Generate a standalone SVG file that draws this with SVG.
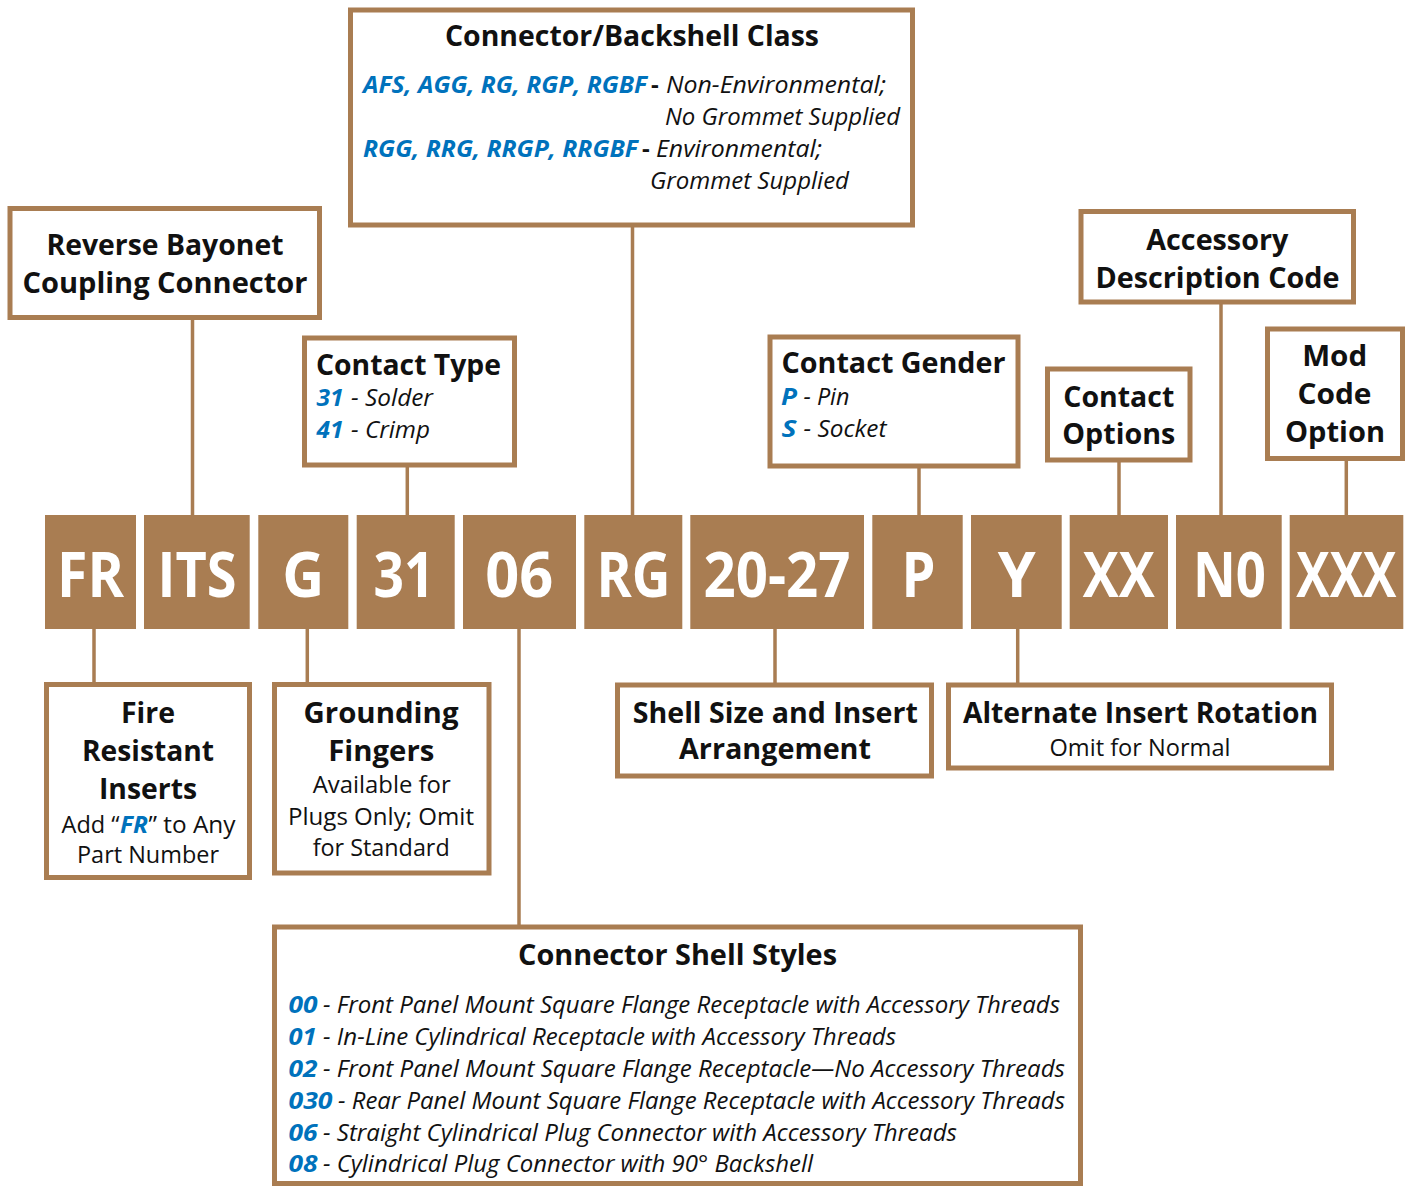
<svg xmlns="http://www.w3.org/2000/svg" width="1410" height="1186" viewBox="0 0 1410 1186">
<style>
.box{fill:#fff;stroke:#A97D52;stroke-width:5}
.code{fill:#A97D52}
.ct{font-family:"Open Sans","Liberation Sans",sans-serif;font-weight:700;font-size:62px;fill:#fff;text-anchor:middle}
.t{font-family:"Open Sans","Liberation Sans",sans-serif;font-weight:700;font-size:29px;fill:#111}
.t2{font-family:"Open Sans","Liberation Sans",sans-serif;font-weight:700;font-size:28px;fill:#111}
.r{font-family:"Open Sans","Liberation Sans",sans-serif;font-weight:400;font-size:24px;fill:#111}
.i{font-family:"Open Sans","Liberation Sans",sans-serif;font-style:italic;font-weight:400;font-size:24px;fill:#111}
.bi{font-family:"Open Sans","Liberation Sans",sans-serif;font-style:italic;font-weight:700;font-size:24px;fill:#0072BC}
.bd{font-family:"Open Sans","Liberation Sans",sans-serif;font-weight:700;font-size:24px;fill:#111}
.m{text-anchor:middle}
.ln{stroke:#A97D52;stroke-width:3.5;fill:none}
</style>

<g id="connectors">
<line class="ln" x1="192.5" y1="320" x2="192.5" y2="516"/>
<line class="ln" x1="407.3" y1="467" x2="407.3" y2="516"/>
<line class="ln" x1="632.5" y1="227" x2="632.5" y2="516"/>
<line class="ln" x1="919" y1="468" x2="919" y2="516"/>
<line class="ln" x1="1119" y1="462" x2="1119" y2="516"/>
<line class="ln" x1="1221" y1="304" x2="1221" y2="516"/>
<line class="ln" x1="1346.3" y1="461" x2="1346.3" y2="516"/>
<line class="ln" x1="94" y1="628" x2="94" y2="683"/>
<line class="ln" x1="307.3" y1="628" x2="307.3" y2="683"/>
<line class="ln" x1="519" y1="628" x2="519" y2="925"/>
<line class="ln" x1="775" y1="628" x2="775" y2="683"/>
<line class="ln" x1="1017.7" y1="628" x2="1017.7" y2="683"/>
</g>

<g id="code-FR"><rect class="code" x="45" y="515" width="91" height="114"/><text class="ct" x="90.5" y="597" textLength="67" lengthAdjust="spacingAndGlyphs">FR</text></g>
<g id="code-ITS"><rect class="code" x="144" y="515" width="105.7" height="114"/><text class="ct" x="197" y="597" textLength="79" lengthAdjust="spacingAndGlyphs">ITS</text></g>
<g id="code-G"><rect class="code" x="258.3" y="515" width="90" height="114"/><text class="ct" x="303.3" y="597" textLength="42" lengthAdjust="spacingAndGlyphs">G</text></g>
<g id="code-31"><rect class="code" x="356.7" y="515" width="98" height="114"/><text class="ct" x="404" y="597" textLength="61" lengthAdjust="spacingAndGlyphs">31</text></g>
<g id="code-06"><rect class="code" x="463" y="515" width="113" height="114"/><text class="ct" x="519.3" y="597" textLength="68" lengthAdjust="spacingAndGlyphs">06</text></g>
<g id="code-RG"><rect class="code" x="584.3" y="515" width="98" height="114"/><text class="ct" x="633.5" y="597" textLength="74" lengthAdjust="spacingAndGlyphs">RG</text></g>
<g id="code-20-27"><rect class="code" x="690.3" y="515" width="173.7" height="114"/><text class="ct" x="777" y="597" textLength="147" lengthAdjust="spacingAndGlyphs">20-27</text></g>
<g id="code-P"><rect class="code" x="872.3" y="515" width="90.4" height="114"/><text class="ct" x="918.5" y="597" textLength="34" lengthAdjust="spacingAndGlyphs">P</text></g>
<g id="code-Y"><rect class="code" x="971" y="515" width="90.7" height="114"/><text class="ct" x="1016.7" y="597" textLength="38" lengthAdjust="spacingAndGlyphs">Y</text></g>
<g id="code-XX"><rect class="code" x="1069.7" y="515" width="98.3" height="114"/><text class="ct" x="1118.8" y="597" textLength="72" lengthAdjust="spacingAndGlyphs">XX</text></g>
<g id="code-N0"><rect class="code" x="1176" y="515" width="105.7" height="114"/><text class="ct" x="1229.5" y="597" textLength="73" lengthAdjust="spacingAndGlyphs">N0</text></g>
<g id="code-XXX"><rect class="code" x="1289.7" y="515" width="113.6" height="114"/><text class="ct" x="1346.3" y="597" textLength="100" lengthAdjust="spacingAndGlyphs">XXX</text></g>

<g id="reverse-bayonet">
<rect class="box" x="10" y="208.5" width="309.5" height="109"/>
<text class="t m" x="165" y="255" textLength="237" lengthAdjust="spacingAndGlyphs">Reverse Bayonet</text>
<text class="t m" x="165" y="293" textLength="285" lengthAdjust="spacingAndGlyphs">Coupling Connector</text>
</g>

<g id="connector-backshell-class">
<rect class="box" x="350.5" y="10" width="562" height="215"/>
<text class="t m" x="632" y="46" textLength="374" lengthAdjust="spacingAndGlyphs">Connector/Backshell Class</text>
<text class="bi" x="363" y="92.5" textLength="284" lengthAdjust="spacingAndGlyphs">AFS, AGG, RG, RGP, RGBF</text>
<text class="bd" x="651" y="92.5">-</text>
<text class="i" x="666" y="92.5" textLength="220" lengthAdjust="spacingAndGlyphs">Non-Environmental;</text>
<text class="i" x="665" y="124.5" textLength="235" lengthAdjust="spacingAndGlyphs">No Grommet Supplied</text>
<text class="bi" x="363" y="156.5" textLength="275" lengthAdjust="spacingAndGlyphs">RGG, RRG, RRGP, RRGBF</text>
<text class="bd" x="642" y="156.5">-</text>
<text class="i" x="656" y="156.5" textLength="166" lengthAdjust="spacingAndGlyphs">Environmental;</text>
<text class="i" x="650" y="188.5" textLength="199" lengthAdjust="spacingAndGlyphs">Grommet Supplied</text>
</g>

<g id="contact-type">
<rect class="box" x="304.5" y="338" width="210" height="127"/>
<text class="t" x="316" y="375" textLength="185" lengthAdjust="spacingAndGlyphs">Contact Type</text>
<text class="bi" x="316.5" y="406" textLength="27" lengthAdjust="spacingAndGlyphs">31</text>
<text class="i" x="351" y="406" textLength="82" lengthAdjust="spacingAndGlyphs">- Solder</text>
<text class="bi" x="316.5" y="438" textLength="27" lengthAdjust="spacingAndGlyphs">41</text>
<text class="i" x="351" y="438" textLength="79" lengthAdjust="spacingAndGlyphs">- Crimp</text>
</g>

<g id="contact-gender">
<rect class="box" x="770" y="337" width="248" height="129"/>
<text class="t" x="781.5" y="373" textLength="224" lengthAdjust="spacingAndGlyphs">Contact Gender</text>
<text class="bi" x="781" y="405" textLength="16" lengthAdjust="spacingAndGlyphs">P</text>
<text class="i" x="803.5" y="405" textLength="46" lengthAdjust="spacingAndGlyphs">- Pin</text>
<text class="bi" x="781.5" y="437" textLength="15" lengthAdjust="spacingAndGlyphs">S</text>
<text class="i" x="803.5" y="437" textLength="83" lengthAdjust="spacingAndGlyphs">- Socket</text>
</g>

<g id="accessory-description-code">
<rect class="box" x="1081" y="211.5" width="272.5" height="90.5"/>
<text class="t m" x="1217.3" y="250" textLength="142" lengthAdjust="spacingAndGlyphs">Accessory</text>
<text class="t m" x="1217.5" y="288" textLength="244" lengthAdjust="spacingAndGlyphs">Description Code</text>
</g>

<g id="contact-options">
<rect class="box" x="1047.5" y="369" width="142.5" height="91"/>
<text class="t m" x="1118.8" y="406.5" textLength="111" lengthAdjust="spacingAndGlyphs">Contact</text>
<text class="t m" x="1118.8" y="444" textLength="113" lengthAdjust="spacingAndGlyphs">Options</text>
</g>

<g id="mod-code-option">
<rect class="box" x="1267.5" y="329" width="135" height="129.5"/>
<text class="t m" x="1334.7" y="366" textLength="65" lengthAdjust="spacingAndGlyphs">Mod</text>
<text class="t m" x="1334.5" y="404" textLength="74" lengthAdjust="spacingAndGlyphs">Code</text>
<text class="t m" x="1335" y="441.5" textLength="100" lengthAdjust="spacingAndGlyphs">Option</text>
</g>

<g id="fire-resistant-inserts">
<rect class="box" x="46.5" y="684.5" width="203" height="193"/>
<text class="t m" x="148" y="723.3" textLength="54" lengthAdjust="spacingAndGlyphs">Fire</text>
<text class="t m" x="148" y="760.7" textLength="132" lengthAdjust="spacingAndGlyphs">Resistant</text>
<text class="t m" x="148" y="799" textLength="98" lengthAdjust="spacingAndGlyphs">Inserts</text>
<text class="r" x="61.5" y="832.7" textLength="58" lengthAdjust="spacingAndGlyphs">Add “</text>
<text class="bi" x="120" y="832.7" textLength="28" lengthAdjust="spacingAndGlyphs">FR</text>
<text class="r" x="148.5" y="832.7" textLength="87" lengthAdjust="spacingAndGlyphs">” to Any</text>
<text class="r m" x="148" y="863.3" textLength="142" lengthAdjust="spacingAndGlyphs">Part Number</text>
</g>

<g id="grounding-fingers">
<rect class="box" x="274.5" y="684.5" width="214.5" height="188.5"/>
<text class="t m" x="381" y="723.3" textLength="155" lengthAdjust="spacingAndGlyphs">Grounding</text>
<text class="t m" x="381.3" y="761" textLength="106" lengthAdjust="spacingAndGlyphs">Fingers</text>
<text class="r m" x="381.7" y="793.3" textLength="138" lengthAdjust="spacingAndGlyphs">Available for</text>
<text class="r m" x="381" y="825" textLength="186" lengthAdjust="spacingAndGlyphs">Plugs Only; Omit</text>
<text class="r m" x="381.2" y="855.7" textLength="137" lengthAdjust="spacingAndGlyphs">for Standard</text>
</g>

<g id="shell-size-insert-arrangement">
<rect class="box" x="617.5" y="685" width="314" height="91"/>
<text class="t2 m" x="775.3" y="722.5" textLength="285" lengthAdjust="spacingAndGlyphs">Shell Size and Insert</text>
<text class="t2 m" x="775" y="759" textLength="192" lengthAdjust="spacingAndGlyphs">Arrangement</text>
</g>

<g id="alternate-insert-rotation">
<rect class="box" x="948.5" y="685" width="383" height="83"/>
<text class="t m" x="1140.5" y="723.3" textLength="355" lengthAdjust="spacingAndGlyphs">Alternate Insert Rotation</text>
<text class="r m" x="1140" y="756" textLength="181" lengthAdjust="spacingAndGlyphs">Omit for Normal</text>
</g>

<g id="connector-shell-styles">
<rect class="box" x="274.5" y="927" width="806" height="256.5"/>
<text class="t m" x="677.5" y="965" textLength="319" lengthAdjust="spacingAndGlyphs">Connector Shell Styles</text>
<text class="bi" x="288.5" y="1013.3" textLength="29" lengthAdjust="spacingAndGlyphs">00</text>
<text class="i" x="323" y="1013.3" textLength="737" lengthAdjust="spacingAndGlyphs">- Front Panel Mount Square Flange Receptacle with Accessory Threads</text>
<text class="bi" x="288.5" y="1045" textLength="28" lengthAdjust="spacingAndGlyphs">01</text>
<text class="i" x="323" y="1045" textLength="573" lengthAdjust="spacingAndGlyphs">- In-Line Cylindrical Receptacle with Accessory Threads</text>
<text class="bi" x="288.5" y="1076.7" textLength="29" lengthAdjust="spacingAndGlyphs">02</text>
<text class="i" x="323" y="1076.7" textLength="742" lengthAdjust="spacingAndGlyphs">- Front Panel Mount Square Flange Receptacle—No Accessory Threads</text>
<text class="bi" x="288.5" y="1108.7" textLength="44" lengthAdjust="spacingAndGlyphs">030</text>
<text class="i" x="338" y="1108.7" textLength="727" lengthAdjust="spacingAndGlyphs">- Rear Panel Mount Square Flange Receptacle with Accessory Threads</text>
<text class="bi" x="288.5" y="1140.7" textLength="29" lengthAdjust="spacingAndGlyphs">06</text>
<text class="i" x="323" y="1140.7" textLength="634" lengthAdjust="spacingAndGlyphs">- Straight Cylindrical Plug Connector with Accessory Threads</text>
<text class="bi" x="288.5" y="1172" textLength="29" lengthAdjust="spacingAndGlyphs">08</text>
<text class="i" x="323" y="1172" textLength="490" lengthAdjust="spacingAndGlyphs">- Cylindrical Plug Connector with 90° Backshell</text>
</g>
</svg>
